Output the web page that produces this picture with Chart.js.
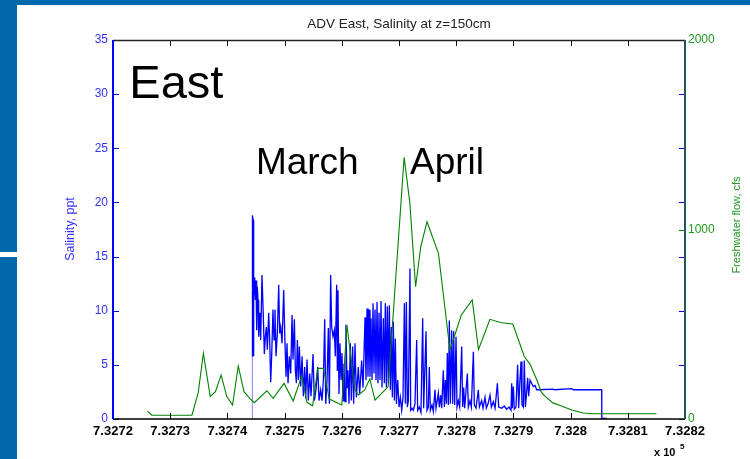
<!DOCTYPE html>
<html><head><meta charset="utf-8">
<script src="https://cdn.jsdelivr.net/npm/chart.js@4.4.1/dist/chart.umd.min.js"></script>
<style>
html,body{margin:0;padding:0;background:#fff;}
#wrap{position:relative;width:750px;height:459px;overflow:hidden;background:#fff;}
.bar{position:absolute;background:#0069ab;}
canvas{position:absolute;left:0;top:0;}
</style></head><body>
<div id="wrap">
<div class="bar" style="left:0;top:0;width:750px;height:5px"></div>
<div class="bar" style="left:0;top:0;width:17px;height:252px"></div>
<div class="bar" style="left:0;top:257px;width:17px;height:202px"></div>
<canvas id="c" width="750" height="459"></canvas>
</div>
<script>
// ---- data (x in days since DAY0 = 732720, MATLAB datenum) ----
const DAY0 = 732720;
const xTickLabels = ['7.3272','7.3273','7.3274','7.3275','7.3276','7.3277','7.3278','7.3279','7.328','7.3281','7.3282'];
const salinityTicks = [0,5,10,15,20,25,30,35];
const flowTicks = [0,1000,2000];

// Salinity, ppt : [day offset, value]
const salinity = [
[24.35,0],[24.36,5.8],[24.38,18.8],[24.48,18.4],[24.53,5.8],[24.59,18.4],[24.65,11.3],[24.77,13.1],[24.88,11.0],[25.00,12.8],
[25.12,8.2],[25.23,12.2],[25.35,11.0],[25.47,7.6],[25.70,9.8],[25.82,7.3],[26.05,13.3],[26.28,9.5],[26.46,6.0],[26.63,7.6],
[26.81,8.5],[26.98,6.4],[27.22,9.8],[27.39,7.3],[27.57,3.4],[27.74,5.8],[27.97,10.1],[28.15,7.3],[28.32,10.1],[28.50,5.8],
[28.73,7.9],[28.97,12.4],[29.14,7.9],[29.32,8.5],[29.55,7.0],[29.84,11.9],[30.02,7.9],[30.25,3.9],[30.42,7.0],[30.60,3.3],
[30.83,5.8],[31.07,4.2],[31.30,9.6],[31.47,5.5],[31.71,9.2],[31.88,4.5],[32.06,3.3],[32.23,7.3],[32.41,3.6],[32.58,6.7],
[32.81,3.0],[33.05,5.8],[33.28,2.1],[33.51,4.8],[33.69,1.9],[33.92,5.5],[34.15,1.7],[34.39,4.2],[34.62,2.1],[34.97,6.0],
[35.20,1.7],[35.49,2.7],[35.79,4.8],[36.02,1.7],[36.31,2.7],[36.54,1.7],[36.78,3.6],[37.01,9.2],[37.19,1.4],[37.42,3.6],
[37.65,8.4],[37.83,1.4],
[38.05,13.3],[38.23,8.5],[38.46,7.6],[38.69,8.2],[38.87,5.8],[39.10,12.4],[39.22,4.5],[39.33,11.9],[39.51,2.3],[39.68,7.0],
[39.86,3.6],[40.03,6.1],[40.21,1.7],[40.38,5.1],[40.56,1.6],[40.73,8.7],[40.91,2.9],[41.08,4.5],[41.26,1.4],[41.49,7.0],
[41.67,1.7],[41.90,6.7],[42.07,1.4],[42.31,7.0],[42.54,2.0],[42.89,4.8],[43.12,2.3],[43.47,5.4],[43.71,2.9],[44.06,9.4],
[44.23,3.6],[44.41,10.2],[44.58,3.9],[44.76,10.1],[44.93,3.9],[45.11,9.3],[45.28,3.6],[45.46,10.7],[45.63,4.2],[45.81,10.1],
[45.98,3.6],[46.16,10.8],[46.33,3.3],[46.51,9.8],[46.68,3.6],[46.86,10.9],[47.03,2.9],[47.26,9.3],[47.44,3.3],[47.61,10.7],
[47.79,2.9],[47.96,10.4],[48.14,3.3],[48.31,10.5],[48.49,2.7],[48.66,8.5],[48.84,2.0],[49.01,9.0],[49.19,1.7],[49.36,7.4],
[49.54,1.4],[49.77,3.6],[50.00,1.1],[50.24,2.0],[50.47,0.8],[50.70,2.0],[50.94,10.7],[51.11,1.4],[51.29,10.8],[51.46,1.1],
[51.64,1.7],[51.92,13.9],[52.04,0.8],[52.28,1.0],
[52.50,0.8],[52.79,1.4],[53.09,7.3],[53.26,0.8],[53.55,1.1],[53.84,0.6],[54.14,9.3],[54.31,1.0],[54.72,8.1],[54.89,0.8],
[55.13,1.1],[55.30,4.8],[55.48,0.8],[55.77,1.3],[56.00,0.7],[56.29,2.7],[56.47,1.0],[56.88,2.4],[57.05,1.1],[57.28,2.2],
[57.46,1.0],[57.75,4.5],[57.93,1.1],[58.10,3.6],[58.28,1.4],[58.45,6.1],[58.62,1.3],[58.80,9.1],[58.97,1.4],[59.21,8.2],
[59.38,1.4],[59.56,8.1],[59.73,1.3],[59.97,7.6],[60.14,1.1],[60.37,1.7],[60.61,1.1],[60.96,6.7],[61.13,1.1],[61.31,2.9],
[61.48,1.0],[61.95,4.2],[62.12,1.1],[62.41,1.7],[62.65,1.1],[63.00,6.2],[63.17,1.3],[63.46,1.0],[63.87,2.7],[64.05,1.1],
[64.45,1.7],[64.69,1.0],[65.04,2.0],[65.27,1.0],[65.56,1.4],[65.91,2.2],[66.15,1.1],[66.50,1.6],[66.79,1.0],[67.20,3.3],
[67.43,1.1],
[67.95,1.0],[68.41,1.2],[68.82,0.9],[69.23,1.1],[69.58,0.8],[69.70,3.3],[69.81,1.0],[69.99,3.0],[70.16,0.9],[70.45,1.1],
[70.74,5.0],[70.92,1.0],[71.15,3.6],[71.33,5.3],[71.50,1.3],[71.74,1.1],[71.91,5.4],[72.09,1.1],[72.26,2.1],[72.49,3.8],
[72.67,2.1],[72.90,3.6],[73.19,3.3],[73.48,3.0],[73.78,3.1],[74.07,2.7],[74.36,2.7],[76.98,2.75],[77.20,2.7],[80.19,2.8],
[80.50,2.7],[85.43,2.7],[85.45,0.05],[86.31,0.05]
];

// Freshwater flow, cfs : [day offset, value]
const flow = [
[6.0,42],[6.8,20],[13.8,20],[14.9,139],[15.8,347],[17.0,118],[17.9,144],[18.9,232],[19.9,118],[20.9,74],
[21.9,280],[22.9,144],[23.9,109],[24.7,86],[26.9,149],[28.0,109],[29.9,188],[31.5,95],[33.0,228],[33.9,88],
[34.9,70],[35.8,267],[36.8,267],[37.8,105],[40.0,74],[40.9,496],[42.3,153],[42.9,127],[44.0,153],[44.9,212],
[45.8,100],[48.1,170],[50.9,1381],[51.9,1138],[52.9,698],[53.8,909],[54.9,1041],[56.9,874],[58.9,364],[60.9,549],
[62.8,628],[63.9,367],[65.9,526],[67.9,508],[69.9,501],[71.9,330],[72.9,290],[74.1,206],[74.9,140],[75.6,118],
[76.9,85],[78.4,69],[80.2,47],[82.2,32],[84.0,28],[95.0,28]
];

const FONT = "'Liberation Sans', Arial, Helvetica, sans-serif";
Chart.defaults.font.family = FONT;

const decor = {
  id: 'decor',
  afterDatasetsDraw(chart) {
    const {ctx, chartArea: a, scales} = chart;
    const sx = scales.x, sy = scales.y, sy2 = scales.y2;
    ctx.save();
    ctx.lineWidth = 1;
    ctx.strokeStyle = '#000';
    sx.ticks.forEach(t => {
      const px = Math.round(sx.getPixelForValue(t.value)) + 0.5;
      ctx.beginPath();
      ctx.moveTo(px, a.bottom); ctx.lineTo(px, a.bottom - 6);
      ctx.moveTo(px, a.top); ctx.lineTo(px, a.top + 6);
      ctx.stroke();
    });
    ctx.strokeStyle = '#0000ff';
    sy.ticks.forEach(t => {
      const py = Math.round(sy.getPixelForValue(t.value)) + 0.5;
      ctx.beginPath();
      ctx.moveTo(a.left, py); ctx.lineTo(a.left + 6, py);
      ctx.moveTo(a.right, py); ctx.lineTo(a.right - 6, py);
      ctx.stroke();
    });
    ctx.strokeStyle = '#008000';
    sy2.ticks.forEach(t => {
      const py = Math.round(sy2.getPixelForValue(t.value)) + 0.5;
      ctx.beginPath();
      ctx.moveTo(a.right, py); ctx.lineTo(a.right - 6, py);
      ctx.stroke();
    });
    ctx.lineWidth = 1.5;
    ctx.strokeStyle = '#222';
    ctx.beginPath(); ctx.moveTo(a.left, a.top + 0.5); ctx.lineTo(a.right, a.top + 0.5); ctx.stroke();
    ctx.strokeStyle = '#000';
    ctx.beginPath(); ctx.moveTo(a.left, a.bottom); ctx.lineTo(a.right, a.bottom); ctx.stroke();
    ctx.lineWidth = 2;
    ctx.strokeStyle = '#0000ff';
    ctx.beginPath(); ctx.moveTo(a.left, a.top); ctx.lineTo(a.left, a.bottom); ctx.stroke();
    ctx.strokeStyle = '#1d5a60';
    ctx.beginPath(); ctx.moveTo(a.right, a.top); ctx.lineTo(a.right, a.bottom); ctx.stroke();

    ctx.textAlign = 'center'; ctx.textBaseline = 'middle';
    ctx.save();
    ctx.translate(70.5, 229); ctx.rotate(-Math.PI / 2);
    ctx.fillStyle = '#3333ff'; ctx.font = '12.5px ' + FONT;
    ctx.fillText('Salinity, ppt', 0, 0);
    ctx.restore();
    ctx.save();
    ctx.translate(736.5, 225); ctx.rotate(-Math.PI / 2);
    ctx.fillStyle = '#1e9a1e'; ctx.font = '11px ' + FONT;
    ctx.fillText('Freshwater flow, cfs', 0, 0);
    ctx.restore();

    ctx.fillStyle = '#000';
    ctx.textAlign = 'left'; ctx.textBaseline = 'alphabetic';
    ctx.font = 'bold 11px ' + FONT;
    ctx.fillText('x 10', 654, 456);
    ctx.font = 'bold 8px ' + FONT;
    ctx.fillText('5', 680, 449);

    const notes = chart.options.plugins.decor.notes;
    notes.forEach(n => {
      ctx.font = n.size + 'px ' + FONT;
      ctx.fillStyle = '#000';
      ctx.fillText(n.text, sx.getPixelForValue(DAY0 + n.day), sy.getPixelForValue(n.ppt));
    });
    ctx.restore();
  }
};

new Chart(document.getElementById('c'), {
  type: 'line',
  data: {
    datasets: [
      {
        label: 'Freshwater flow',
        data: flow.map(p => ({x: DAY0 + p[0], y: p[1]})),
        yAxisID: 'y2',
        borderColor: '#008000',
        borderWidth: 1.1,
        pointRadius: 0,
        tension: 0,
        order: 0
      },
      {
        label: 'Salinity',
        data: salinity.map(p => ({x: DAY0 + p[0], y: p[1]})),
        yAxisID: 'y',
        borderColor: '#0000ff',
        borderWidth: 1.3,
        pointRadius: 0,
        tension: 0,
        order: 1,
        segment: {
          borderColor: c => c.p0DataIndex === 0 ? 'rgba(70,70,255,0.7)' : undefined,
          borderWidth: c => c.p0DataIndex === 0 ? 1 : undefined
        }
      }
    ]
  },
  options: {
    responsive: false,
    animation: false,
    devicePixelRatio: 1,
    layout: { padding: 0 },
    plugins: {
      legend: { display: false },
      tooltip: { enabled: false },
      title: {
        display: true,
        fullSize: false,
        text: 'ADV East, Salinity at z=150cm',
        color: '#222',
        font: { size: 13.5, weight: 'normal', lineHeight: 1.2 },
        padding: { top: 16.4, bottom: 7.4 }
      },
      decor: {
        notes: [
          { text: 'East', day: 2.85, ppt: 29.64, size: 47 },
          { text: 'March', day: 24.98, ppt: 22.62, size: 37 },
          { text: 'April', day: 51.92, ppt: 22.62, size: 37 }
        ]
      }
    },
    scales: {
      x: {
        type: 'linear',
        position: 'bottom',
        min: DAY0, max: DAY0 + 100,
        grid: { display: false, drawTicks: false },
        border: { display: false },
        ticks: {
          stepSize: 10, autoSkip: false, maxRotation: 0, padding: 5,
          color: '#000', font: { size: 13, weight: 'bold' },
          callback: (v, i) => xTickLabels[i]
        },
        afterFit: s => { s.height = 40; }
      },
      y: {
        type: 'linear',
        position: 'left',
        min: 0, max: 35,
        grid: { display: false, drawTicks: false },
        border: { display: false },
        ticks: {
          stepSize: 5, padding: 5, color: '#3030ff', font: { size: 12 },
          callback: (v, i) => String(salinityTicks[i])
        },
        afterFit: s => { s.width = 113; }
      },
      y2: {
        type: 'linear',
        position: 'right',
        min: 0, max: 2000,
        grid: { display: false, drawTicks: false },
        border: { display: false },
        ticks: {
          stepSize: 1000, padding: 3, color: '#1e9a1e', font: { size: 12 },
          callback: (v, i) => String(flowTicks[i])
        },
        afterFit: s => { s.width = 65; }
      }
    }
  },
  plugins: [decor]
});
</script>
</body></html>
